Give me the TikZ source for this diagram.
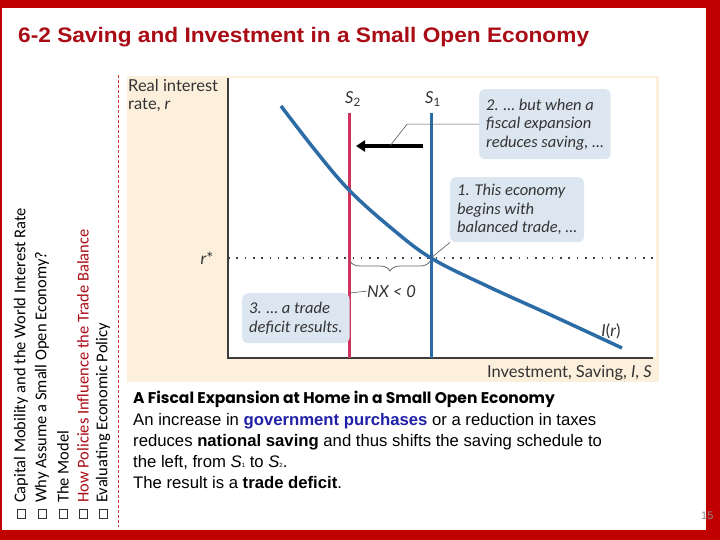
\documentclass[tikz,border=0pt]{standalone}
\usepackage{fontspec}
\usepackage{graphicx}
\setmainfont{Liberation Sans}
\newfontfamily\figfont{Lato}
\newfontfamily\notefont{Carlito}
\newfontfamily\sidefont{Carlito}
\newfontfamily\capfont{Poppins}
\usetikzlibrary{arrows.meta, calc, decorations.pathreplacing}

\begin{document}
\begin{tikzpicture}[x=1pt, y=-1pt, >=Triangle]
  % colours
  \definecolor{framered}{RGB}{192,0,0}
  \definecolor{titlered}{RGB}{170,12,22}
  \definecolor{panelbeige}{RGB}{252,240,221}
  \definecolor{noteblue}{RGB}{220,230,241}
  \definecolor{curveblue}{RGB}{44,108,166}
  \definecolor{shiftred}{RGB}{206,52,92}
  \definecolor{navytext}{RGB}{32,32,168}
  \definecolor{axisgray}{RGB}{60,60,60}

  \tikzset{
    note/.style={fill=noteblue, rounded corners=6pt, align=left, anchor=north west,
      inner xsep=7pt, inner ysep=5pt,
      font=\notefont\itshape\fontsize{16.5}{18.5}\selectfont, text=black!80},
    sidetext/.style={rotate=90, anchor=west, inner sep=0pt,
      font=\sidefont\fontsize{16.5}{16.5}\selectfont},
    bulletbox/.style={draw=black!80, line width=0.5pt, minimum width=8pt,
      minimum height=9pt, inner sep=0pt},
    leader/.style={draw=black!65, line width=0.6pt},
    figlabel/.style={font=\figfont\fontsize{16.5}{18}\selectfont, text=black!80, inner sep=0pt},
    bodyline/.style={anchor=base west, inner sep=0pt, font=\fontsize{16.7}{16}\selectfont}
  }

  % slide frame
  \fill[framered] (0,0) rectangle (720,540);
  \fill[white] (2,8) rectangle (706,530);
  \useasboundingbox (0,0) rectangle (720,540);

  % title
  \node[anchor=base west, inner sep=0pt, text=titlered,
    font=\bfseries\fontsize{21}{21}\selectfont] (title) at (18,43)
    {\scalebox{1.08}[1]{6-2 Saving and Investment in a Small Open Economy}};

  % side menu
  \node[sidetext] (m1) at (21,503) {Capital Mobility and the World Interest Rate};
  \node[sidetext] (m2) at (42,503) {Why Assume a Small Open Economy?};
  \node[sidetext] (m3) at (63,503) {The Model};
  \node[sidetext, text=titlered] (m4) at (83,503) {How Policies Influence the Trade Balance};
  \node[sidetext] (m5) at (103,503) {Evaluating Economic Policy};
  \foreach \i/\x in {1/21,2/42,3/63,4/83,5/103}
    \node[bulletbox] (b\i) at (\x,514) {};
  \draw[framered!80, line width=0.8pt, dash pattern=on 3pt off 2pt] (118,75) -- (118,527);

  % figure panel
  \fill[panelbeige] (127,76) rectangle (659,382);
  \fill[white] (228,78) rectangle (656,357);

  % r* line
  \coordinate (rl) at (228,258);
  \coordinate (rr) at (655,258);
  \draw[black!75, line width=1.6pt, dash pattern=on 1.6pt off 6.7pt] (rl) -- (rr);

  % axes
  \coordinate (o) at (228,358);
  \draw[axisgray, line width=1.2pt] (228,78) -- (o) -- (653,358);

  % saving schedules
  \coordinate (s2top) at (349,113);
  \coordinate (s1top) at (431,113);
  \draw[shiftred, line width=3pt] (s2top) -- (349,358);
  \draw[curveblue, line width=3pt] (s1top) -- (431,358);

  % investment schedule
  \draw[curveblue, line width=3.5pt] plot[smooth, tension=0.6] coordinates
    {(281,106) (315,150) (349,190) (390,227) (431,258) (487,286) (553,316) (622,348)};
  \coordinate (eq) at (431,258);

  % shift arrow
  \coordinate (atail) at (423,146);
  \coordinate (ahead) at (356,146);
  \coordinate (amid) at (390,146);
  \draw[line width=3.5pt, -{Triangle[length=9pt, width=11pt]}] (atail) -- (ahead);

  % axis labels
  \node[figlabel, anchor=north west, align=left] (ylab) at (128,79)
    {Real interest\\rate, \textit{r}};
  \node[figlabel, anchor=base east] (xlab) at (652,377)
    {Investment, Saving, \textit{I}, \textit{S}};
  \node[figlabel, anchor=base] (rstar) at (207,264) {\textit{r}*};
  \node[figlabel, anchor=base] (s2lab) at (353,104) {\textit{S}\textsubscript{2}};
  \node[figlabel, anchor=base] (s1lab) at (433,104) {\textit{S}\textsubscript{1}};
  \node[figlabel, anchor=base] (ilab) at (611,336) {\textit{I}(\textit{r})};

  % notes
  \node[note, minimum width=125pt, minimum height=70pt] (n2) at (479,89)
    {2. \dots\ but when a\\fiscal expansion\\reduces saving, \dots};
  \node[note, minimum width=133pt, minimum height=65pt] (n1) at (450,177)
    {1. This economy\\begins with\\balanced trade, \dots};
  \node[note, minimum width=101pt, minimum height=50pt] (n3) at (242,293)
    {3. \dots\ a trade\\deficit results.};

  % NX brace
  \draw[black!60, line width=0.8pt, decorate, decoration={brace, mirror, amplitude=10pt}]
    (350,261) -- (430,261);
  \node[figlabel, anchor=base west, font=\figfont\itshape\fontsize{16.5}{18}\selectfont]
    (nx) at (367,297) {NX < 0};

  % leaders
  \draw[leader] (n2.west) -- ++(-72,0) -- (amid);
  \draw[leader] (n1.south west) -- (eq);
  \draw[leader] (n3.north east) -- (nx.west);

  % caption
  \node[anchor=base west, inner sep=0pt, font=\capfont\bfseries\fontsize{15.5}{16}\selectfont]
    (capt) at (133,403) {A Fiscal Expansion at Home in a Small Open Economy};
  \node[bodyline] (l1) at (133,425)
    {An increase in \textbf{\color{navytext}government purchases} or a reduction in taxes};
  \node[bodyline] (l2) at (133,446)
    {reduces \textbf{national saving} and thus shifts the saving schedule to};
  \node[bodyline] (l3) at (133,467)
    {the left, from \textit{S}{\fontsize{6}{6}\selectfont 1} to \textit{S}{\fontsize{6}{6}\selectfont 2}.};
  \node[bodyline] (l4) at (133,488) {The result is a \textbf{trade deficit}.};

  % page number
  \node[anchor=base west, inner sep=0pt, text=black!45, font=\fontsize{11}{11}\selectfont]
    (pg) at (701,519) {15};
\end{tikzpicture}
\end{document}
